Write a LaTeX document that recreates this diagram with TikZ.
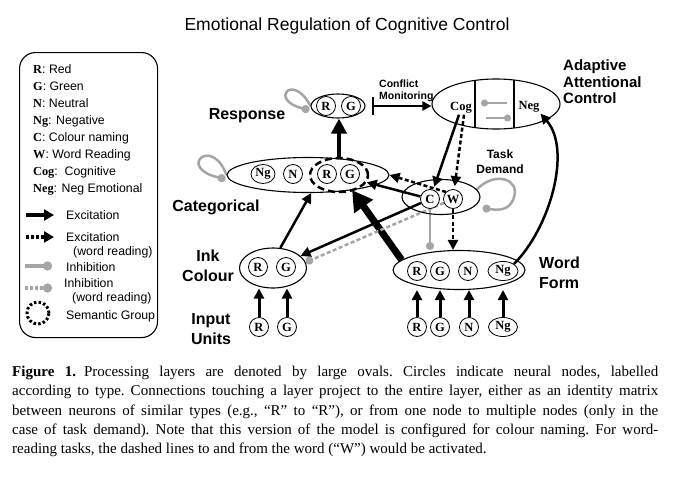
\documentclass[tikz,border=0pt]{standalone}
\usepackage{fontspec}
\setmainfont{Liberation Serif}
\newfontfamily\arial{Liberation Sans}
\usetikzlibrary{shapes.geometric,arrows.meta,calc,backgrounds}
\definecolor{inhgray}{RGB}{165,165,165}
\begin{document}
\begin{tikzpicture}[x=1pt,y=-1pt,
 nd/.style={circle,draw,line width=0.8pt,inner sep=0pt,minimum size=19pt,fill=white,font=\bfseries\fontsize{12.5}{12}\selectfont},
 ndw/.style={nd,ellipse,minimum width=#1,minimum height=19pt},
 layer/.style={ellipse,draw,line width=1.1pt,inner sep=0pt},
 lbl/.style={font=\arial\bfseries\fontsize{16}{20}\selectfont,align=center,inner sep=0pt},
 leg/.style={font=\arial\fontsize{12.3}{14}\selectfont,inner sep=0pt,anchor=west},
 lb/.style={font=\rmfamily\bfseries\fontsize{12.5}{14}\selectfont},
 exc/.style={line width=2.5pt,-{Triangle[length=10pt,width=10pt]}},
 excd/.style={exc,dash pattern=on 4pt off 2.5pt},
 inh/.style={inhgray,line width=2.5pt,-{Circle[length=8pt]}},
 inhd/.style={inh,dash pattern=on 4pt off 2.5pt},
]
\useasboundingbox (0,0) rectangle (674,482);

% title
\node[font=\arial\fontsize{17.5}{20}\selectfont,inner sep=0pt] (title) at (347,26) {Emotional Regulation of Cognitive Control};

% legend
\node[draw,line width=1.1pt,rounded corners=16pt,minimum width=138pt,minimum height=285pt,anchor=north west,inner sep=0pt] (legend) at (19,52) {};
\node[leg] (l1) at (33,69) {\textbf{\rmfamily R}: Red};
\node[leg] (l2) at (33,86) {\textbf{\rmfamily G}: Green};
\node[leg] (l3) at (33,103) {\textbf{\rmfamily N}: Neutral};
\node[leg] (l4) at (33,121) {\textbf{\rmfamily Ng}: Negative};
\node[leg] (l5) at (33,138) {\textbf{\rmfamily C}: Colour naming};
\node[leg] (l6) at (33,155) {\textbf{\rmfamily W}: Word Reading};
\node[leg] (l7) at (33,172) {\textbf{\rmfamily Cog}:\ \ Cognitive};
\node[leg] (l8) at (33,189) {\textbf{\rmfamily Neg}: Neg Emotional};

\coordinate (e1a) at (26,215); \coordinate (e1b) at (54,215);
\draw[line width=3.5pt,-{Triangle[length=10pt,width=11pt]}] (e1a) -- (e1b);
\node[leg] (lt1) at (66,215) {Excitation};
\coordinate (e2a) at (26,237); \coordinate (e2b) at (54,237);
\draw[line width=3.5pt,dash pattern=on 3pt off 2pt,-{Triangle[length=10pt,width=11pt]}] (e2a) -- (e2b);
\node[leg] (lt2) at (66,237) {Excitation};
\node[leg] (lt2b) at (73,252) {(word reading)};
\coordinate (e3a) at (25,266); \coordinate (e3b) at (52,266);
\draw[inhgray,line width=3.5pt,-{Circle[length=9pt]}] (e3a) -- (e3b);
\node[leg] (lt3) at (66,267) {Inhibition};
\coordinate (e4a) at (25,288); \coordinate (e4b) at (52,288);
\draw[inhgray,line width=3.5pt,dash pattern=on 3pt off 2pt,-{Circle[length=9pt]}] (e4a) -- (e4b);
\node[leg] (lt4) at (64,283) {Inhibition};
\node[leg] (lt4b) at (72,298) {(word reading)};
\node[circle,draw,line width=3pt,dash pattern=on 2.5pt off 2.2pt,minimum size=22pt,inner sep=0pt] (lsem) at (38,313) {};
\node[leg] (lt5) at (66,316) {Semantic Group};

% layers
\node[layer,minimum width=54pt,minimum height=24pt] (resp) at (338,106) {};
\node[nd] (respR) at (326,106) {R};
\node[nd] (respG) at (351,106) {G};

\node[layer,minimum width=162pt,minimum height=35pt] (cat) at (308,175) {};
\node[ndw=24pt] (catNg) at (263,174) {Ng};
\node[nd] (catN) at (293,174) {N};
\node[nd] (catR) at (327,174) {R};
\node[nd] (catG) at (350,174) {G};
\node[draw,ellipse,line width=2.5pt,dash pattern=on 7pt off 4pt,minimum width=58pt,minimum height=34pt,inner sep=0pt] (sem) at (339,175) {};

\node[layer,minimum width=78pt,minimum height=35pt] (td) at (441,197) {};
\node[nd] (C) at (430,199) {C};
\node[nd] (W) at (453,199) {W};

\node[layer,minimum width=132pt,minimum height=39pt] (wf) at (459,270) {};
\node[nd] (wfR) at (417,271) {R};
\node[nd] (wfG) at (440,271) {G};
\node[nd] (wfN) at (468,271) {N};
\node[ndw=30pt] (wfNg) at (503,271) {Ng};

\node[layer,minimum width=67pt,minimum height=40pt] (ink) at (273,268) {};
\node[nd] (inkR) at (258,267) {R};
\node[nd] (inkG) at (286,267) {G};

\node[nd] (inR) at (259,327) {R};
\node[nd] (inG) at (287,327) {G};
\node[nd] (iwR) at (417,327) {R};
\node[nd] (iwG) at (440,327) {G};
\node[nd] (iwN) at (469,327) {N};
\node[ndw=29pt] (iwNg) at (503,327) {Ng};

\node[layer,minimum width=128pt,minimum height=50pt] (aac) at (496,104) {};
\node[lb,inner sep=1pt] (cog) at (461,108) {Cog};
\node[lb,inner sep=1pt] (neg) at (529,107) {Neg};
\draw[line width=2pt] ($(aac.center)+(-21,-23.6)$) -- ($(aac.center)+(-21,23.6)$);
\draw[line width=2pt] ($(aac.center)+(18,-24)$) -- ($(aac.center)+(18,24)$);
\coordinate (s1a) at (507,103); \coordinate (s1b) at (481,103);
\draw[inhgray,line width=2pt,-{Circle[length=7pt]}] (s1a) -- (s1b);
\coordinate (s2a) at (486,118); \coordinate (s2b) at (511,118);
\draw[inhgray,line width=2pt,-{Circle[length=7pt]}] (s2a) -- (s2b);

% labels
\node[lbl] (lresp) at (247,116) {Response};
\node[lbl] (lcat) at (216,207) {Categorical};
\node[lbl] (link) at (208,266) {Ink\\Colour};
\node[lbl] (linp) at (211,329) {Input\\Units};
\node[lbl,align=left,anchor=west] (lwf) at (539,273) {Word\\Form};
\node[font=\arial\bfseries\fontsize{12}{15}\selectfont,align=center,inner sep=0pt] (ltd) at (500,162) {Task\\Demand};
\node[font=\arial\bfseries\fontsize{10.5}{12}\selectfont,align=left,anchor=west,inner sep=0pt] (lcm) at (379,91) {Conflict\\Monitoring};
\node[font=\arial\bfseries\fontsize{15}{16.5}\selectfont,align=left,anchor=west,inner sep=0pt] (laac) at (563,82) {Adaptive\\Attentional\\Control};

% connectors
\begin{scope}[on background layer]
\draw[line width=4.5pt,-{Triangle[length=15pt,width=15pt]}] (sem.north) -- (sem.north |- resp.south);
\draw[line width=7pt,-{Triangle[length=20pt,width=22pt]}] (wf.170) -- (cat.-19);
\draw[exc] (ink.70) -- (cat.-80);
\draw[exc] (C) -- (ink);
\draw[exc] (C) -- (sem);
\draw[excd] (W.north west) -- (cat.east);
\draw[exc,shorten >=3pt] ([xshift=-2pt]cog.south) -- (C);
\draw[excd,shorten >=3pt] ([xshift=3pt]cog.south) -- (W);
\draw[excd] (W) -- (W |- wf.north);
\draw[inh] (C) -- (C |- wf.north);
\draw[inhd] (W) -- (ink.10);
\draw[exc] (wfNg.north east) .. controls (550,228) and (572,150) .. (neg.south east);
\draw[line width=2pt,{Bar[width=18pt]}-{Triangle[length=9pt,width=9pt]},shorten <=6pt] (resp.east) -- (resp.east -| aac.west);
\draw[inh] (resp.west) .. controls (293,72) and (268,100) .. ($(resp.west)+(-1,4)$);
\draw[inh] (cat.west) .. controls (212,135) and (176,168) .. ($(cat.west)+(-1,4)$);
\draw[inh] (td.12) .. controls (496,170) and (520,180) .. (514,197) .. controls (510,212) and (496,210) .. ($(td.east)+(2,11)$);
\foreach \n in {inR,inG}{\draw[exc,line width=3pt] (\n) -- (\n |- ink.south);}
\foreach \n in {iwR,iwG,iwN,iwNg}{\draw[exc,line width=3pt] (\n) -- (\n |- wf.south);}
\end{scope}

% caption
\node[anchor=north west,text width=646pt,align=justify,inner sep=0pt,font=\fontsize{15}{19.3}\selectfont] (cap) at (12,366) {\frenchspacing\hyphenpenalty=10000 \textbf{Figure 1.}\hspace{8pt}Processing layers are denoted by large ovals. Circles indicate neural nodes, labelled\linebreak according to type. Connections touching a layer project to the entire layer, either as an identity matrix\linebreak between neurons of similar types (e.g., ``R'' to ``R''), or from one node to multiple nodes (only in the\linebreak case of task demand). Note that this version of the model is configured for colour naming. For word-\linebreak reading tasks, the dashed lines to and from the word (``W'') would be activated.};
\end{tikzpicture}
\end{document}
